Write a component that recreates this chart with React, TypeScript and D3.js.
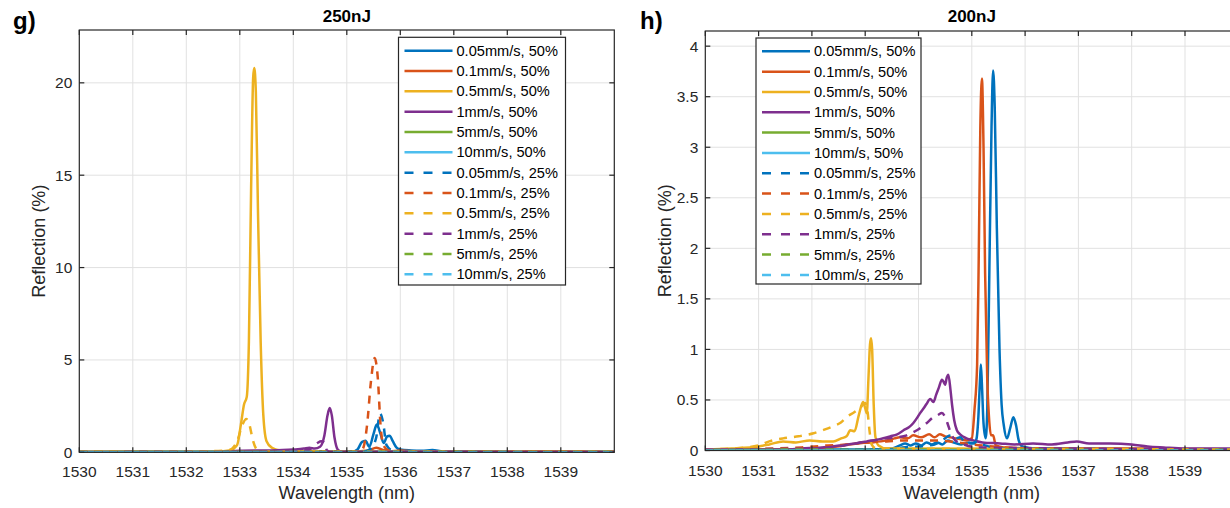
import React from "react";
import * as d3 from "d3";

type Pt = [number, number];

// Series labels: scan speed and duty cycle
const speeds = ["0.05mm/s", "0.1mm/s", "0.5mm/s", "1mm/s", "5mm/s", "10mm/s"];
const duties = ["50%", "25%"];
const seriesLabels = duties.flatMap((d) => speeds.map((s) => `${s}, ${d}`));
const speedColors = ["#0072BD", "#D95319", "#EDB120", "#7E2F8E", "#77AC30", "#4DBEEE"];

const xTicks = [1530, 1531, 1532, 1533, 1534, 1535, 1536, 1537, 1538, 1539];
const yTicks250 = [0, 5, 10, 15, 20];
const yTicks200 = [0, 0.5, 1, 1.5, 2, 2.5, 3, 3.5, 4];

// ---- 250 nJ spectra (wavelength nm, reflection %) ----
const r250_005_50: Pt[] = [[1530, 0.02], [1532, 0.02], [1534, 0.03], [1535.1, 0.03], [1535.2, 0.15], [1535.28, 0.55], [1535.35, 0.62], [1535.42, 0.3], [1535.5, 1.0], [1535.56, 1.5], [1535.63, 1.0], [1535.69, 0.5], [1535.75, 0.85], [1535.8, 0.9], [1535.86, 0.6], [1535.93, 0.25], [1536.0, 0.15], [1536.2, 0.1], [1536.4, 0.08], [1536.6, 0.12], [1536.8, 0.06], [1537.2, 0.05], [1538, 0.03], [1540, 0.02]];
const r250_01_50: Pt[] = [[1530, 0.02], [1535.0, 0.03], [1535.4, 0.1], [1535.55, 0.25], [1535.65, 0.15], [1535.8, 0.05], [1536, 0.1], [1536.3, 0.05], [1538.5, 0.06], [1540, 0.04]];
const r250_05_50: Pt[] = [[1530, 0.02], [1532.5, 0.03], [1532.8, 0.1], [1532.95, 0.4], [1533.02, 1.5], [1533.08, 2.6], [1533.13, 3.0], [1533.17, 6], [1533.21, 14], [1533.25, 20.3], [1533.27, 20.8], [1533.3, 19.5], [1533.34, 13], [1533.39, 6], [1533.44, 2.0], [1533.5, 0.6], [1533.6, 0.25], [1533.75, 0.1], [1534, 0.05], [1536, 0.02], [1540, 0.02]];
const r250_1_50: Pt[] = [[1530, 0.02], [1532.5, 0.03], [1533, 0.08], [1533.5, 0.1], [1533.8, 0.12], [1534.0, 0.15], [1534.2, 0.2], [1534.3, 0.25], [1534.4, 0.2], [1534.5, 0.3], [1534.58, 0.9], [1534.64, 2.0], [1534.68, 2.4], [1534.72, 2.0], [1534.77, 0.8], [1534.83, 0.15], [1534.9, 0.03], [1540, 0.02]];
const r250_5_50: Pt[] = [[1530, 0.02], [1532, 0.03], [1534, 0.02], [1536, 0.03], [1538, 0.02], [1540, 0.03]];
const r250_10_50: Pt[] = [[1530, 0.0], [1532, 0.01], [1534, 0.0], [1536, 0.01], [1538, 0.0], [1540, 0.01]];
const r250_005_25: Pt[] = [[1530, 0.02], [1535.3, 0.03], [1535.45, 0.2], [1535.55, 0.8], [1535.62, 2.1], [1535.68, 1.6], [1535.74, 0.4], [1535.85, 0.1], [1536, 0.05], [1540, 0.02]];
const r250_01_25: Pt[] = [[1530, 0.02], [1535.2, 0.03], [1535.3, 0.2], [1535.38, 1.5], [1535.45, 3.8], [1535.52, 5.1], [1535.58, 4.0], [1535.63, 1.5], [1535.68, 0.4], [1535.78, 0.1], [1535.9, 0.05], [1537.5, 0.02], [1538.3, 0.05], [1539.3, 0.04], [1540, 0.03]];
const r250_05_25: Pt[] = [[1530, 0.02], [1530.5, 0.05], [1531, 0.02], [1532.3, 0.05], [1532.8, 0.12], [1532.95, 0.6], [1533.05, 1.5], [1533.12, 1.8], [1533.18, 1.5], [1533.24, 0.7], [1533.32, 0.15], [1533.45, 0.03], [1540, 0.02]];
const r250_1_25: Pt[] = [[1530, 0.02], [1534.0, 0.05], [1534.3, 0.15], [1534.45, 0.5], [1534.52, 0.6], [1534.58, 0.55], [1534.63, 0.1], [1534.7, 0.03], [1540, 0.02]];
const r250_5_25: Pt[] = [[1530, 0.01], [1532, 0.02], [1534, 0.01], [1536, 0.02], [1538, 0.01], [1540, 0.02]];
const r250_10_25: Pt[] = [[1530, 0.0], [1532, 0.0], [1534, 0.01], [1536, 0.0], [1538, 0.01], [1540, 0.0]];

// ---- 200 nJ spectra ----
const r200_005_50: Pt[] = [[1530, 0.01], [1533.0, 0.01], [1533.5, 0.02], [1533.65, 0.05], [1533.75, 0.07], [1533.85, 0.05], [1533.95, 0.07], [1534.05, 0.05], [1534.15, 0.08], [1534.25, 0.06], [1534.35, 0.08], [1534.45, 0.06], [1534.55, 0.1], [1534.65, 0.08], [1534.8, 0.06], [1534.95, 0.08], [1535.05, 0.07], [1535.09, 0.12], [1535.12, 0.3], [1535.15, 0.65], [1535.17, 0.85], [1535.19, 0.65], [1535.22, 0.27], [1535.26, 0.12], [1535.29, 0.4], [1535.33, 1.8], [1535.37, 3.2], [1535.4, 3.76], [1535.43, 3.4], [1535.47, 2.2], [1535.52, 1.0], [1535.56, 0.45], [1535.6, 0.25], [1535.66, 0.12], [1535.72, 0.22], [1535.78, 0.33], [1535.83, 0.25], [1535.88, 0.1], [1535.95, 0.04], [1536.2, 0.02], [1540, 0.01]];
const r200_01_50: Pt[] = [[1530, 0.01], [1531.5, 0.01], [1532.3, 0.03], [1532.6, 0.05], [1532.84, 0.07], [1533.1, 0.08], [1533.4, 0.1], [1533.55, 0.12], [1533.65, 0.13], [1533.8, 0.12], [1533.9, 0.15], [1534.05, 0.13], [1534.2, 0.16], [1534.3, 0.13], [1534.4, 0.16], [1534.5, 0.14], [1534.6, 0.13], [1534.7, 0.12], [1534.8, 0.11], [1534.9, 0.1], [1535.0, 0.12], [1535.05, 0.4], [1535.1, 0.85], [1535.13, 1.9], [1535.16, 3.2], [1535.19, 3.68], [1535.22, 3.0], [1535.25, 1.75], [1535.29, 0.7], [1535.32, 0.35], [1535.36, 0.15], [1535.4, 0.15], [1535.45, 0.05], [1535.6, 0.03], [1536.5, 0.02], [1538, 0.02], [1540, 0.01]];
const r200_05_50: Pt[] = [[1530, 0.01], [1530.5, 0.02], [1531.0, 0.04], [1531.2, 0.06], [1531.46, 0.09], [1531.7, 0.08], [1531.96, 0.1], [1532.2, 0.09], [1532.4, 0.09], [1532.55, 0.12], [1532.65, 0.14], [1532.72, 0.2], [1532.8, 0.19], [1532.88, 0.35], [1532.96, 0.48], [1533.0, 0.42], [1533.03, 0.37], [1533.06, 0.7], [1533.09, 1.05], [1533.11, 1.11], [1533.13, 1.0], [1533.16, 0.45], [1533.19, 0.14], [1533.25, 0.05], [1533.4, 0.02], [1540, 0.01]];
const r200_1_50: Pt[] = [[1530, 0.01], [1531.5, 0.01], [1531.8, 0.02], [1532.2, 0.03], [1532.53, 0.05], [1532.8, 0.07], [1533.03, 0.09], [1533.25, 0.11], [1533.47, 0.14], [1533.6, 0.16], [1533.72, 0.2], [1533.82, 0.23], [1533.9, 0.27], [1533.97, 0.32], [1534.03, 0.37], [1534.1, 0.42], [1534.15, 0.46], [1534.22, 0.51], [1534.28, 0.48], [1534.33, 0.55], [1534.38, 0.62], [1534.44, 0.7], [1534.47, 0.68], [1534.5, 0.65], [1534.53, 0.72], [1534.56, 0.75], [1534.6, 0.6], [1534.63, 0.45], [1534.67, 0.3], [1534.72, 0.2], [1534.78, 0.16], [1534.9, 0.12], [1535.03, 0.1], [1535.2, 0.08], [1535.53, 0.07], [1535.8, 0.06], [1536.15, 0.07], [1536.5, 0.06], [1536.8, 0.08], [1536.97, 0.09], [1537.2, 0.07], [1537.6, 0.07], [1538.0, 0.06], [1538.3, 0.04], [1538.6, 0.03], [1539, 0.02], [1540, 0.02]];
const r200_5_50: Pt[] = [[1530, 0.01], [1532, 0.0], [1534, 0.01], [1536, 0.0], [1538, 0.01], [1540, 0.0]];
const r200_10_50: Pt[] = [[1530, 0.0], [1532, 0.0], [1534, 0.0], [1536, 0.0], [1538, 0.0], [1540, 0.0]];
const r200_005_25: Pt[] = [[1530, 0.01], [1533.5, 0.01], [1533.7, 0.03], [1534.0, 0.04], [1534.3, 0.06], [1534.45, 0.1], [1534.55, 0.14], [1534.62, 0.15], [1534.7, 0.12], [1534.78, 0.13], [1534.88, 0.08], [1535.0, 0.07], [1535.1, 0.09], [1535.2, 0.06], [1535.32, 0.04], [1535.5, 0.02], [1540, 0.01]];
const r200_01_25: Pt[] = [[1530, 0.01], [1531.3, 0.02], [1531.8, 0.03], [1532.3, 0.05], [1532.7, 0.06], [1533.0, 0.08], [1533.4, 0.09], [1533.8, 0.1], [1534.2, 0.1], [1534.6, 0.09], [1535.0, 0.06], [1535.4, 0.04], [1536, 0.02], [1540, 0.01]];
const r200_05_25: Pt[] = [[1530, 0.01], [1530.5, 0.02], [1531.0, 0.05], [1531.2, 0.09], [1531.46, 0.12], [1531.75, 0.14], [1532.03, 0.17], [1532.2, 0.2], [1532.4, 0.24], [1532.55, 0.28], [1532.65, 0.33], [1532.8, 0.38], [1532.9, 0.42], [1533.0, 0.47], [1533.04, 0.4], [1533.08, 0.2], [1533.12, 0.06], [1533.2, 0.02], [1540, 0.01]];
const r200_1_25: Pt[] = [[1530, 0.01], [1532, 0.02], [1532.6, 0.05], [1533.15, 0.1], [1533.4, 0.12], [1533.6, 0.13], [1533.78, 0.15], [1533.9, 0.18], [1533.97, 0.2], [1534.08, 0.24], [1534.15, 0.27], [1534.28, 0.33], [1534.36, 0.35], [1534.44, 0.37], [1534.5, 0.33], [1534.55, 0.26], [1534.6, 0.18], [1534.69, 0.1], [1534.85, 0.06], [1535.1, 0.03], [1540, 0.01]];
const r200_5_25: Pt[] = [[1530, 0.0], [1532, 0.01], [1534, 0.0], [1536, 0.01], [1538, 0.0], [1540, 0.01]];
const r200_10_25: Pt[] = [[1530, 0.0], [1532, 0.0], [1534, 0.0], [1536, 0.0], [1538, 0.0], [1540, 0.0]];

const spectra250 = [r250_005_50, r250_01_50, r250_05_50, r250_1_50, r250_5_50, r250_10_50, r250_005_25, r250_01_25, r250_05_25, r250_1_25, r250_5_25, r250_10_25];
const spectra200 = [r200_005_50, r200_01_50, r200_05_50, r200_1_50, r200_5_50, r200_10_50, r200_005_25, r200_01_25, r200_05_25, r200_1_25, r200_5_25, r200_10_25];

const FONT = "'Liberation Sans', Arial, Helvetica, sans-serif";
const AXIS = "#262626";
const GRID = "#e1e1e1";
const DASH = "8,7";
const LW = 2.5;

type PanelProps = {
  id: string;
  tag: string;
  tagX: number;
  title: string;
  data: Pt[][];
  yMax: number;
  yTicks: number[];
  left: number;
  top: number;
  width: number;
  bottom: number;
  legend: { x: number; y: number; w: number; h: number; row0: number; rowStep: number };
};

function Panel(p: PanelProps) {
  const x = d3.scaleLinear().domain([1530, 1540]).range([p.left, p.left + p.width]);
  const y = d3.scaleLinear().domain([0, p.yMax]).range([p.bottom, p.top]);
  const line = d3
    .line<Pt>()
    .x((d) => x(d[0]))
    .y((d) => y(d[1]))
    .curve(d3.curveMonotoneX);
  const right = p.left + p.width;
  const cx = p.left + p.width / 2;
  const tick = 5;
  const lg = p.legend;

  return (
    <g>
      <defs>
        <clipPath id={`clip-${p.id}`}>
          <rect x={p.left} y={p.top - 2} width={p.width} height={p.bottom - p.top + 2} />
        </clipPath>
      </defs>
      {/* grid */}
      {xTicks.slice(1).map((t) => (
        <line key={`gx${t}`} x1={x(t)} x2={x(t)} y1={p.top} y2={p.bottom} stroke={GRID} strokeWidth={1} />
      ))}
      {p.yTicks.slice(1).map((t) => (
        <line key={`gy${t}`} x1={p.left} x2={right} y1={y(t)} y2={y(t)} stroke={GRID} strokeWidth={1} />
      ))}
      {/* spectra */}
      <g clipPath={`url(#clip-${p.id})`}>
        {p.data.map((s, i) => (
          <path
            key={i}
            d={line(s) || ""}
            fill="none"
            stroke={speedColors[i % 6]}
            strokeWidth={LW}
            strokeDasharray={i >= 6 ? DASH : undefined}
            strokeLinejoin="round"
          />
        ))}
      </g>
      {/* box and ticks */}
      <rect x={p.left} y={p.top} width={p.width} height={p.bottom - p.top} fill="none" stroke={AXIS} strokeWidth={1.2} />
      {xTicks.map((t) => (
        <g key={`tx${t}`}>
          <line x1={x(t)} x2={x(t)} y1={p.bottom} y2={p.bottom - tick} stroke={AXIS} strokeWidth={1.2} />
          <line x1={x(t)} x2={x(t)} y1={p.top} y2={p.top + tick} stroke={AXIS} strokeWidth={1.2} />
          <text x={x(t)} y={p.bottom + 25} textAnchor="middle" fontSize={15.5} fill={AXIS} fontFamily={FONT}>
            {t}
          </text>
        </g>
      ))}
      {p.yTicks.map((t) => (
        <g key={`ty${t}`}>
          <line x1={p.left} x2={p.left + tick} y1={y(t)} y2={y(t)} stroke={AXIS} strokeWidth={1.2} />
          <line x1={right} x2={right - tick} y1={y(t)} y2={y(t)} stroke={AXIS} strokeWidth={1.2} />
          <text x={p.left - 7} y={y(t) + 5.5} textAnchor="end" fontSize={15.5} fill={AXIS} fontFamily={FONT}>
            {t}
          </text>
        </g>
      ))}
      {/* labels */}
      <text x={cx} y={499} textAnchor="middle" fontSize={18} fill={AXIS} fontFamily={FONT}>
        Wavelength (nm)
      </text>
      <text
        transform={`translate(${p.left - 34},${(p.top + p.bottom) / 2}) rotate(-90)`}
        textAnchor="middle"
        fontSize={18}
        fill={AXIS}
        fontFamily={FONT}
      >
        Reflection (%)
      </text>
      <text x={cx} y={22} textAnchor="middle" fontSize={17} fontWeight="bold" fill="#000" fontFamily={FONT}>
        {p.title}
      </text>
      <text x={p.tagX} y={29} fontSize={24} fontWeight="bold" fill="#000" fontFamily={FONT}>
        {p.tag}
      </text>
      {/* legend */}
      <rect x={lg.x} y={lg.y} width={lg.w} height={lg.h} fill="#fff" stroke={AXIS} strokeWidth={1.2} />
      {seriesLabels.map((lab, i) => {
        const ry = lg.row0 + i * lg.rowStep;
        return (
          <g key={`lg${i}`}>
            <line
              x1={lg.x + 6}
              x2={lg.x + 54}
              y1={ry}
              y2={ry}
              stroke={speedColors[i % 6]}
              strokeWidth={LW}
              strokeDasharray={i >= 6 ? "9,10" : undefined}
            />
            <text x={lg.x + 58} y={ry + 5} fontSize={14.6} fill="#000" fontFamily={FONT}>
              {lab}
            </text>
          </g>
        );
      })}
    </g>
  );
}

export default function App() {
  return (
    <svg
      width={1230}
      height={508}
      viewBox="0 0 1230 508"
      style={{ position: "absolute", left: 0, top: 0, background: "#fff" }}
    >
      <rect x={0} y={0} width={1230} height={508} fill="#fff" />
      <Panel
        id="g"
        tag="g)"
        tagX={13}
        title="250nJ"
        data={spectra250}
        yMax={22.86}
        yTicks={yTicks250}
        left={79.3}
        top={30}
        width={535}
        bottom={452.3}
        legend={{ x: 398.5, y: 37.3, w: 167, h: 247.7, row0: 50.7, rowStep: 20.33 }}
      />
      <Panel
        id="h"
        tag="h)"
        tagX={640}
        title="200nJ"
        data={spectra200}
        yMax={4.15}
        yTicks={yTicks200}
        left={705.3}
        top={31}
        width={533}
        bottom={450.5}
        legend={{ x: 756, y: 38, w: 165, h: 246, row0: 51.3, rowStep: 20.33 }}
      />
    </svg>
  );
}
